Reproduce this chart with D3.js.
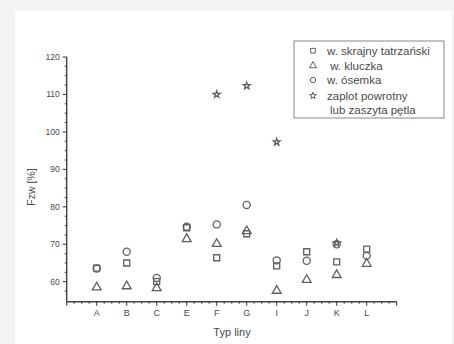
<!DOCTYPE html>
<html>
<head>
<meta charset="utf-8">
<script src="https://cdn.jsdelivr.net/npm/d3@7"></script>
<style>
  body { margin: 0; background: #f2f3f2; }
  svg { display: block; }
</style>
</head>
<body>
<div id="chart"></div>
<script>
// kategorie i serie
const categories = ["A", "B", "C", "E", "F", "G", "I", "J", "K", "L"];
const skrajny = [63.6, 65.0, 60.0, 74.4, 66.4, 72.8, 64.2, 68.0, 65.3, 68.7];
const kluczka = [58.5, 58.8, 58.3, 71.4, 70.1, 73.5, 57.6, 60.5, 61.8, 64.8];
const osemka = [63.5, 68.0, 61.0, 74.7, 75.3, 80.5, 65.7, 65.6, 70.0, 66.9];
const zaplot = [null, null, null, null, 110.0, 112.3, 97.3, null, 70.3, null];
const yTicks = [60, 70, 80, 90, 100, 110, 120];

const series = [
  { name: "w. skrajny tatrzański", values: skrajny, symbol: d3.symbolSquare, size: 36 },
  { name: " w. kluczka", values: kluczka, symbol: d3.symbolTriangle, size: 34 },
  { name: "w. ósemka", values: osemka, symbol: d3.symbolCircle, size: 40 },
  { name: "zaplot powrotny", values: zaplot, symbol: d3.symbolStar, size: 15 }
];

const W = 454, H = 344;
const svg = d3.select("#chart").append("svg").attr("width", W).attr("height", H);

// bialy panel
svg.append("rect").attr("x", 15).attr("y", 11).attr("width", W - 17).attr("height", H - 11)
  .attr("fill", "#ffffff");

const pLeft = 66.7, pRight = 396.7, pTop = 57, pBottom = 301.7;
const x = d3.scalePoint().domain(categories).range([pLeft, pRight]).padding(1);
// 120 -> pTop, 60 -> 281.7
const y = d3.scaleLinear().domain([60, 120]).range([281.7, pTop]);

const axisColor = "#444";
const txtColor = "#4a4a4a";
const font = "Arial, 'Liberation Sans', sans-serif";

// os y
const gy = svg.append("g");
gy.append("line").attr("x1", pLeft).attr("x2", pLeft).attr("y1", pBottom).attr("y2", y(120))
  .attr("stroke", axisColor).attr("stroke-width", 1.4);
d3.range(57.5, 120.1, 2.5).forEach(v => {
  const major = v % 10 === 0;
  gy.append("line").attr("x1", pLeft - (major ? 4 : 2)).attr("x2", pLeft)
    .attr("y1", y(v)).attr("y2", y(v)).attr("stroke", axisColor).attr("stroke-width", 1.1);
});
yTicks.forEach(v => {
  gy.append("text").attr("x", pLeft - 7).attr("y", y(v) + 3)
    .attr("text-anchor", "end").attr("font-family", font).attr("font-size", 8.5)
    .attr("fill", txtColor).text(v);
});

// os x
const gx = svg.append("g");
const step = x.step();
gx.append("line").attr("x1", pLeft).attr("x2", pRight).attr("y1", pBottom).attr("y2", pBottom)
  .attr("stroke", axisColor).attr("stroke-width", 1.4);
for (let i = 0; i <= categories.length + 1; i++) {
  const px = pLeft + i * step;
  gx.append("line").attr("x1", px).attr("x2", px).attr("y1", pBottom).attr("y2", pBottom + 4)
    .attr("stroke", axisColor).attr("stroke-width", 1.1);
  if (i <= categories.length) {
    for (let k = 1; k < 4; k++) {
      const mx = px + k * step / 4;
      gx.append("line").attr("x1", mx).attr("x2", mx).attr("y1", pBottom).attr("y2", pBottom + 2)
        .attr("stroke", axisColor).attr("stroke-width", 1.1);
    }
  }
}
categories.forEach(c => {
  gx.append("text").attr("x", x(c)).attr("y", 316)
    .attr("text-anchor", "middle").attr("font-family", font).attr("font-size", 9)
    .attr("fill", txtColor).text(c);
});

// tytuly osi
svg.append("text").attr("transform", "translate(35,187) rotate(-90)")
  .attr("text-anchor", "middle").attr("font-family", font).attr("font-size", 10.5)
  .attr("fill", txtColor).text("Fzw [%]");
svg.append("text").attr("x", 232).attr("y", 336)
  .attr("text-anchor", "middle").attr("font-family", font).attr("font-size", 11)
  .attr("fill", txtColor).text("Typ liny");

// punkty
const markColor = "#606060";
series.forEach(s => {
  const sym = d3.symbol().type(s.symbol).size(s.size);
  svg.append("g").selectAll("path")
    .data(categories.map((c, i) => ({ c: c, v: s.values[i] })).filter(d => d.v !== null))
    .enter().append("path")
    .attr("transform", d => "translate(" + x(d.c) + "," + y(d.v) + ")")
    .attr("d", sym)
    .attr("fill", "none").attr("stroke", markColor).attr("stroke-width", 1.3);
});

// legenda
const lg = svg.append("g");
lg.append("rect").attr("x", 294).attr("y", 41).attr("width", 150).attr("height", 77)
  .attr("fill", "#fff").attr("stroke", "#888").attr("stroke-width", 1);
const rows = [50.7, 65.7, 80, 95.7];
series.forEach((s, i) => {
  lg.append("path").attr("transform", "translate(313," + rows[i] + ")")
    .attr("d", d3.symbol().type(s.symbol).size(s.symbol === d3.symbolStar ? 14 : 22))
    .attr("fill", "none").attr("stroke", markColor).attr("stroke-width", 1);
  lg.append("text").attr("x", 327).attr("y", rows[i] + 4)
    .attr("font-family", font).attr("font-size", 11.5).attr("fill", txtColor)
    .style("white-space", "pre").text(s.name);
});
lg.append("text").attr("x", 330).attr("y", 114).attr("font-family", font).attr("font-size", 11.5)
  .attr("fill", txtColor).text("lub zaszyta pętla");
</script>
</body>
</html>
